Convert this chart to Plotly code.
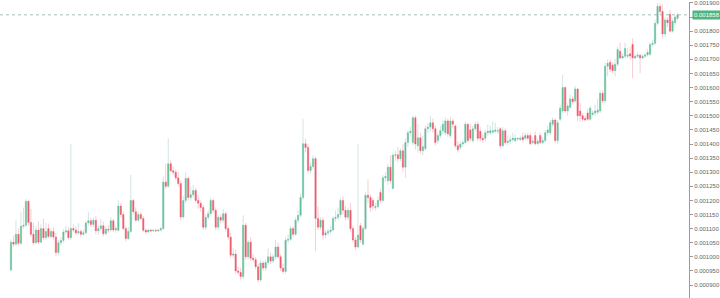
import plotly.graph_objects as go

# prices in units of 1e-6
open_ = [
    953,1052,1045,1080,1048,1108,1112,1197,1122,1080,
    1050,1095,1052,1100,1068,1100,1072,1090,1070,1015,
    1050,1058,1088,1092,1068,1100,1095,1085,1090,1080,
    1085,1120,1128,1115,1130,1092,1100,1110,1082,1098,
    1095,1128,1095,1094,1180,1150,1100,1065,1090,1200,
    1160,1130,1150,1136,1094,1088,1095,1092,1094,1092,
    1095,1100,1265,1250,1330,1305,1300,1280,1260,1141,
    1200,1278,1210,1220,1235,1200,1190,1175,1105,1140,
    1153,1200,1165,1105,1140,1130,1153,1100,1070,1006,
    1010,950,945,930,1112,1000,1052,995,990,965,
    918,978,960,980,1000,985,1000,1035,1000,960,
    948,1059,1062,1100,1080,1130,1147,1210,1401,1388,
    1306,1320,1348,1136,1105,1130,1077,1085,1090,1095,
    1136,1140,1150,1200,1165,1140,1165,1100,1060,1035,
    1110,1045,1100,1218,1210,1200,1175,1178,1228,1200,
    1280,1270,1318,1242,1360,1362,1348,1376,1318,1405,
    1440,1405,1493,1394,1422,1376,1383,1454,1460,1475,
    1454,1412,1430,1447,1440,1482,1430,1482,1464,1394,
    1388,1400,1405,1470,1450,1412,1454,1470,1445,1420,
    1420,1440,1440,1442,1445,1445,1454,1394,1447,1405,
    1410,1415,1412,1418,1416,1425,1420,1430,1430,1405,
    1430,1401,1430,1405,1412,1440,1440,1470,1485,1412,
    1488,1517,1600,1517,1530,1560,1553,1595,1517,1500,
    1490,1510,1488,1505,1510,1513,1517,1580,1553,1676,
    1690,1680,1660,1683,1729,1705,1711,1711,1720,1753,
    1705,1711,1715,1705,1711,1716,1718,1753,1757,1828,
    1888,1870,1790,1840,1860,1800,1830,1845,
]
close = [
    1052,1045,1080,1048,1108,1112,1197,1122,1080,1050,
    1095,1052,1100,1068,1090,1072,1090,1070,1015,1050,
    1058,1088,1092,1068,1100,1095,1085,1090,1080,1085,
    1120,1128,1115,1130,1092,1100,1110,1082,1098,1095,
    1128,1095,1100,1180,1150,1100,1065,1090,1200,1160,
    1130,1150,1136,1094,1088,1095,1092,1094,1092,1095,
    1100,1265,1250,1330,1305,1300,1280,1260,1141,1200,
    1278,1210,1220,1235,1200,1190,1175,1105,1140,1153,
    1200,1165,1105,1140,1130,1153,1100,1070,1006,1010,
    950,945,930,1112,1000,1052,995,990,965,918,
    978,960,980,1000,985,1000,1035,1000,960,948,
    1059,1062,1100,1080,1130,1147,1210,1401,1388,1306,
    1320,1348,1136,1105,1130,1077,1085,1090,1095,1136,
    1140,1150,1200,1165,1140,1165,1100,1060,1035,1077,
    1060,1100,1218,1210,1175,1180,1178,1200,1200,1280,
    1285,1318,1270,1360,1362,1348,1376,1318,1405,1440,
    1445,1493,1400,1422,1376,1390,1454,1460,1475,1454,
    1405,1430,1447,1470,1482,1436,1482,1470,1394,1380,
    1400,1405,1470,1412,1420,1454,1470,1420,1420,1415,
    1440,1445,1447,1447,1450,1447,1394,1447,1405,1410,
    1415,1420,1420,1420,1420,1415,1430,1420,1401,1410,
    1401,1410,1405,1412,1440,1450,1475,1485,1412,1475,
    1527,1600,1517,1535,1560,1550,1595,1500,1500,1488,
    1485,1488,1527,1510,1517,1520,1580,1553,1676,1686,
    1665,1660,1683,1735,1705,1711,1739,1715,1712,1705,
    1711,1715,1705,1711,1716,1725,1753,1757,1828,1888,
    1870,1790,1840,1830,1800,1835,1850,1858,
]
high = [
    1062,1075,1130,1100,1160,1175,1205,1200,1170,1120,
    1110,1125,1115,1135,1120,1118,1100,1105,1085,1060,
    1070,1098,1110,1105,1401,1115,1108,1120,1098,1095,
    1128,1160,1138,1140,1145,1112,1135,1125,1108,1112,
    1140,1135,1110,1200,1190,1160,1110,1105,1290,1205,
    1175,1160,1160,1145,1100,1100,1098,1098,1097,1098,
    1105,1285,1330,1420,1345,1320,1310,1300,1270,1215,
    1300,1285,1250,1255,1245,1220,1200,1185,1150,1165,
    1210,1205,1175,1150,1150,1170,1160,1110,1085,1030,
    1025,965,960,1147,1120,1060,1070,1010,1000,975,
    990,985,990,1030,1015,1010,1060,1050,1010,975,
    1070,1080,1110,1108,1140,1165,1225,1490,1420,1400,
    1335,1360,1355,1180,1140,1140,1095,1100,1110,1145,
    1165,1175,1210,1215,1180,1175,1190,1110,1070,1400,
    1120,1110,1230,1275,1220,1210,1190,1215,1240,1290,
    1300,1330,1360,1370,1375,1390,1385,1400,1420,1450,
    1460,1500,1500,1470,1440,1430,1465,1475,1500,1490,
    1465,1440,1465,1485,1495,1490,1495,1490,1470,1410,
    1410,1415,1480,1475,1470,1465,1480,1480,1460,1435,
    1450,1470,1465,1480,1475,1460,1460,1460,1455,1430,
    1430,1440,1435,1425,1430,1440,1440,1438,1440,1425,
    1445,1420,1440,1425,1450,1465,1485,1495,1490,1485,
    1540,1645,1605,1545,1575,1570,1605,1600,1545,1510,
    1500,1525,1535,1520,1540,1560,1590,1590,1690,1700,
    1700,1690,1700,1745,1760,1720,1760,1740,1745,1775,
    1720,1725,1720,1718,1722,1735,1760,1770,1840,1900,
    1900,1895,1850,1850,1875,1845,1855,1865,
]
low = [
    948,1035,1040,1040,1042,1100,1105,1110,1070,1042,
    1045,1045,1048,1060,1060,1065,1065,1060,1002,1005,
    1040,1050,1080,1060,1060,1088,1078,1078,1072,1075,
    1080,1110,1105,1105,1080,1078,1090,1072,1075,1085,
    1090,1088,1085,1090,1140,1095,1055,1060,1085,1150,
    1125,1125,1130,1088,1082,1085,1088,1089,1089,1090,
    1090,1095,1240,1245,1300,1290,1270,1250,1130,1135,
    1190,1200,1200,1210,1190,1170,1160,1095,1095,1130,
    1145,1155,1095,1095,1120,1120,1090,1060,995,995,
    940,935,920,922,990,990,985,980,955,910,
    912,950,950,970,975,978,990,995,950,938,
    940,1050,1055,1070,1075,1120,1140,1200,1370,1295,
    1295,1310,1020,1095,1095,1060,1065,1075,1080,1090,
    1125,1130,1140,1150,1130,1130,1090,1050,1025,1030,
    1050,1040,1095,1190,1160,1165,1165,1170,1190,1195,
    1265,1255,1260,1240,1340,1335,1340,1300,1280,1390,
    1430,1395,1380,1370,1365,1360,1375,1440,1445,1440,
    1395,1400,1420,1435,1430,1425,1420,1455,1385,1370,
    1380,1390,1398,1405,1410,1405,1445,1410,1410,1405,
    1410,1430,1432,1435,1438,1435,1385,1388,1398,1395,
    1400,1408,1405,1410,1410,1405,1412,1412,1395,1398,
    1395,1395,1400,1400,1405,1430,1430,1460,1405,1400,
    1480,1510,1510,1500,1525,1540,1545,1480,1480,1482,
    1480,1482,1482,1498,1500,1505,1510,1545,1545,1640,
    1655,1650,1640,1675,1700,1700,1705,1705,1700,1633,
    1700,1705,1650,1700,1705,1710,1712,1745,1750,1820,
    1860,1775,1780,1815,1795,1795,1820,1840,
]
last_price = 1858
y_ticks = [900 + 50 * k for k in range(21)]

UNIT = 1e-6
n = len(close)
xs = list(range(n))
O = [v * UNIT for v in open_]
C = [v * UNIT for v in close]
H = [v * UNIT for v in high]
L = [v * UNIT for v in low]
BT = [max(a, b) for a, b in zip(O, C)]
BB = [min(a, b) for a, b in zip(O, C)]

GREEN = "#62c294"
RED = "#ef5a6c"
GREEN_WICK = "#d3e3e7"
RED_WICK = "#f9ccd2"

fig = go.Figure()
fig.add_trace(go.Candlestick(
    x=xs, open=O, high=H, low=L, close=C,
    increasing=dict(line=dict(color=GREEN_WICK, width=1), fillcolor=GREEN_WICK),
    decreasing=dict(line=dict(color=RED_WICK, width=1), fillcolor=RED_WICK),
    whiskerwidth=0, showlegend=False, hoverinfo="skip",
))
fig.add_trace(go.Candlestick(
    x=xs, open=O, high=BT, low=BB, close=C,
    increasing=dict(line=dict(color=GREEN, width=0.3), fillcolor=GREEN),
    decreasing=dict(line=dict(color=RED, width=0.3), fillcolor=RED),
    whiskerwidth=0, showlegend=False, hoverinfo="skip",
))

ppc = 2.5
fig.add_shape(type="line", xref="paper", yref="y", x0=0, x1=1,
              y0=last_price * UNIT, y1=last_price * UNIT,
              line=dict(color="rgba(130,165,155,0.7)", width=1, dash="dot"))
fig.add_annotation(xref="paper", yref="y", x=1, y=last_price * UNIT,
                   xanchor="left", yanchor="middle", xshift=3,
                   text=f"{last_price * UNIT:.6f}", showarrow=False,
                   bgcolor="#4fb57e", borderpad=1,
                   font=dict(family="Liberation Sans, Arial", size=6, color="white"))

# the 0.001850 label sits behind the last-price badge, so it is left blank
tick_text = ["" if v == 1850 else f"{v * UNIT:.6f}" for v in y_ticks]

fig.update_layout(
    width=720, height=298, autosize=False,
    margin=dict(l=0, r=30, t=0, b=0),
    paper_bgcolor="white", plot_bgcolor="white",
    boxmode="overlay",
    xaxis=dict(visible=False, rangeslider=dict(visible=False),
               range=[-11 / ppc, (n - 1) + 11.5 / ppc]),
    yaxis=dict(side="right", range=[854 * UNIT, 1903.5 * UNIT],
               tickvals=[v * UNIT for v in y_ticks],
               ticktext=tick_text, ticklabeloverflow="allow",
               showgrid=False, zeroline=False,
               showline=True, linecolor="#9a9a9a", linewidth=1,
               ticks="outside", ticklen=3, tickcolor="#9a9a9a",
               tickfont=dict(family="Liberation Sans, Arial", size=6, color="#666666")),
)
fig.write_html("out.html")
